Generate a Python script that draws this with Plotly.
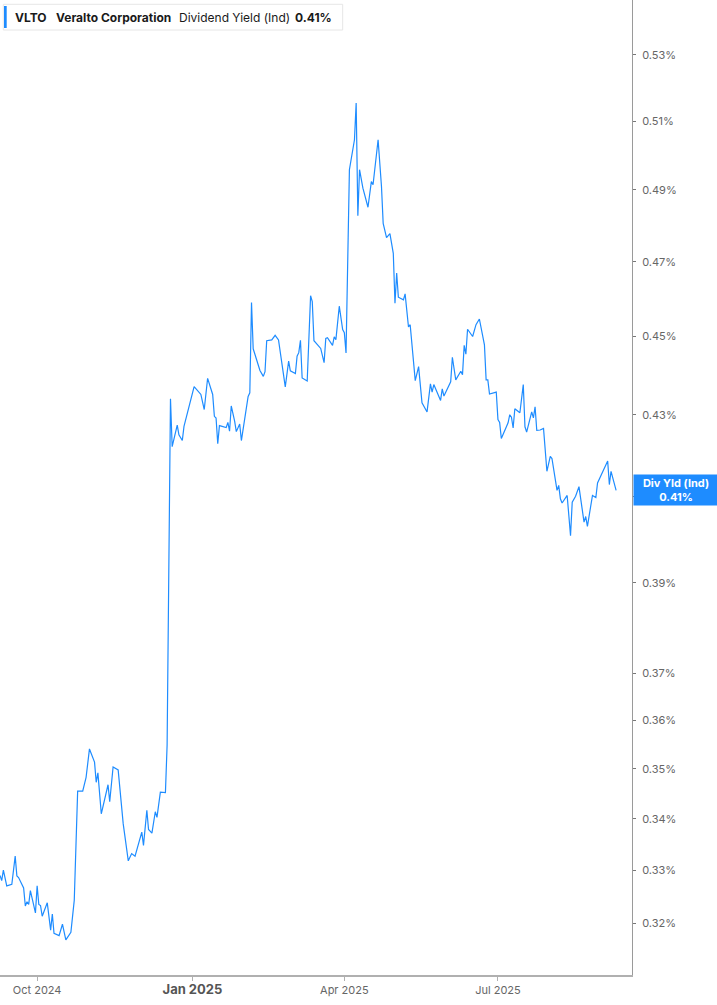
import math
import plotly.graph_objects as go

# VLTO indicated dividend yield (%)
dates = [
    "2024-09-09", "2024-09-10", "2024-09-11", "2024-09-13", "2024-09-16", "2024-09-18", "2024-09-19", "2024-09-20",
    "2024-09-23", "2024-09-24", "2024-09-25", "2024-09-26", "2024-09-27", "2024-09-30", "2024-10-01", "2024-10-02",
    "2024-10-03", "2024-10-04", "2024-10-07", "2024-10-09", "2024-10-10", "2024-10-11", "2024-10-14", "2024-10-16",
    "2024-10-18", "2024-10-21", "2024-10-23", "2024-10-25", "2024-10-28", "2024-10-30", "2024-11-01", "2024-11-04",
    "2024-11-05", "2024-11-06", "2024-11-08", "2024-11-12", "2024-11-13", "2024-11-15", "2024-11-18", "2024-11-20",
    "2024-11-21", "2024-11-24", "2024-11-26", "2024-11-28", "2024-12-02", "2024-12-03", "2024-12-05", "2024-12-06",
    "2024-12-08", "2024-12-10", "2024-12-11", "2024-12-13", "2024-12-16", "2024-12-17", "2024-12-19", "2024-12-20",
    "2024-12-23", "2024-12-24", "2024-12-26", "2024-12-27", "2024-12-30", "2025-01-02", "2025-01-06", "2025-01-08",
    "2025-01-10", "2025-01-13", "2025-01-14", "2025-01-15", "2025-01-16", "2025-01-17", "2025-01-21", "2025-01-22",
    "2025-01-23", "2025-01-24", "2025-01-26", "2025-01-27", "2025-01-29", "2025-01-30", "2025-02-03", "2025-02-04",
    "2025-02-05", "2025-02-06", "2025-02-10", "2025-02-12", "2025-02-13", "2025-02-14", "2025-02-17", "2025-02-19",
    "2025-02-21", "2025-02-25", "2025-02-27", "2025-02-28", "2025-03-03", "2025-03-04", "2025-03-05", "2025-03-06",
    "2025-03-07", "2025-03-10", "2025-03-12", "2025-03-13", "2025-03-14", "2025-03-18", "2025-03-20", "2025-03-21",
    "2025-03-22", "2025-03-25", "2025-03-26", "2025-03-27", "2025-03-29", "2025-03-31", "2025-04-01", "2025-04-02",
    "2025-04-04", "2025-04-07", "2025-04-08", "2025-04-09", "2025-04-10", "2025-04-12", "2025-04-15", "2025-04-17",
    "2025-04-18", "2025-04-21", "2025-04-23", "2025-04-24", "2025-04-26", "2025-04-28", "2025-04-30", "2025-05-01",
    "2025-05-02", "2025-05-03", "2025-05-06", "2025-05-07", "2025-05-09", "2025-05-10", "2025-05-13", "2025-05-15",
    "2025-05-17", "2025-05-20", "2025-05-22", "2025-05-23", "2025-05-24", "2025-05-28", "2025-05-29", "2025-05-30",
    "2025-06-03", "2025-06-04", "2025-06-06", "2025-06-09", "2025-06-10", "2025-06-11", "2025-06-12", "2025-06-13",
    "2025-06-16", "2025-06-18", "2025-06-20", "2025-06-23", "2025-06-24", "2025-06-25", "2025-06-26", "2025-06-30",
    "2025-07-01", "2025-07-02", "2025-07-03", "2025-07-07", "2025-07-08", "2025-07-09", "2025-07-10", "2025-07-11",
    "2025-07-14", "2025-07-16", "2025-07-17", "2025-07-18", "2025-07-21", "2025-07-22", "2025-07-23", "2025-07-24",
    "2025-07-26", "2025-07-28", "2025-07-30", "2025-08-01", "2025-08-02", "2025-08-05", "2025-08-06", "2025-08-07",
    "2025-08-08", "2025-08-11", "2025-08-13", "2025-08-14", "2025-08-16", "2025-08-18", "2025-08-21", "2025-08-22",
    "2025-08-23", "2025-08-26", "2025-08-28", "2025-08-29", "2025-09-04", "2025-09-05", "2025-09-06", "2025-09-09",
]
yield_pct = [
    0.3290, 0.3280, 0.3300, 0.3270, 0.3273, 0.3327, 0.3289, 0.3286,
    0.3266, 0.3232, 0.3240, 0.3235, 0.3261, 0.3219, 0.3270, 0.3235,
    0.3233, 0.3213, 0.3238, 0.3187, 0.3217, 0.3181, 0.3177, 0.3198,
    0.3169, 0.3183, 0.3243, 0.3455, 0.3455, 0.3483, 0.3541, 0.3514,
    0.3473, 0.3492, 0.3410, 0.3468, 0.3434, 0.3504, 0.3498, 0.3414,
    0.3390, 0.3318, 0.3332, 0.3327, 0.3374, 0.3348, 0.3417, 0.3379,
    0.3372, 0.3414, 0.3403, 0.3453, 0.3452, 0.3549, 0.4340, 0.4221,
    0.4274, 0.4250, 0.4236, 0.4271, 0.4319, 0.4371, 0.4351, 0.4313,
    0.4392, 0.4351, 0.4296, 0.4292, 0.4228, 0.4273, 0.4268, 0.4281,
    0.4259, 0.4322, 0.4284, 0.4258, 0.4277, 0.4236, 0.4346, 0.4355,
    0.4590, 0.4468, 0.4412, 0.4397, 0.4409, 0.4489, 0.4491, 0.4503,
    0.4491, 0.4370, 0.4436, 0.4411, 0.4404, 0.4449, 0.4458, 0.4490,
    0.4393, 0.4385, 0.4608, 0.4592, 0.4489, 0.4469, 0.4432, 0.4495,
    0.4497, 0.4477, 0.4499, 0.4492, 0.4580, 0.4518, 0.4510, 0.4457,
    0.4958, 0.5045, 0.5154, 0.4827, 0.4958, 0.4905, 0.4851, 0.4924,
    0.4915, 0.5045, 0.4910, 0.4806, 0.4766, 0.4777, 0.4723, 0.4588,
    0.4669, 0.4604, 0.4597, 0.4613, 0.4525, 0.4531, 0.4386, 0.4422,
    0.4330, 0.4307, 0.4378, 0.4357, 0.4376, 0.4336, 0.4365, 0.4347,
    0.4383, 0.4446, 0.4388, 0.4410, 0.4401, 0.4477, 0.4454, 0.4519,
    0.4500, 0.4531, 0.4546, 0.4478, 0.4388, 0.4388, 0.4352, 0.4357,
    0.4288, 0.4281, 0.4241, 0.4280, 0.4300, 0.4294, 0.4267, 0.4315,
    0.4305, 0.4376, 0.4270, 0.4257, 0.4307, 0.4292, 0.4320, 0.4261,
    0.4262, 0.4266, 0.4161, 0.4197, 0.4192, 0.4115, 0.4127, 0.4095,
    0.4085, 0.4103, 0.4008, 0.4087, 0.4101, 0.4124, 0.4040, 0.4053,
    0.4030, 0.4103, 0.4098, 0.4133, 0.4186, 0.4129, 0.4161, 0.4115,
]

y_ticks = [0.32, 0.33, 0.34, 0.35, 0.36, 0.37, 0.39, 0.41, 0.43, 0.45, 0.47, 0.49, 0.51, 0.53]
x_ticks = ["2024-10-01", "2025-01-01", "2025-04-01", "2025-07-01"]
x_ticktext = ["Oct 2024", "<span style='font-size:13px;color:#555555'><b>Jan 2025</b></span>", "Apr 2025", "Jul 2025"]

ticker = "VLTO"
company = "Veralto Corporation"
metric = "Dividend Yield (Ind)"
last_txt = f"{yield_pct[-1]:.2f}%"

blue = "#1e8cff"
font = "Inter, Roboto, sans-serif"

fig = go.Figure()
fig.add_trace(go.Scatter(x=dates, y=yield_pct, mode="lines",
                         line=dict(color=blue, width=1.2), showlegend=False, hoverinfo="skip"))

fig.update_layout(
    width=717, height=1005,
    margin=dict(l=0, r=85, t=0, b=30),
    paper_bgcolor="white", plot_bgcolor="white",
    font=dict(family=font, size=11, color="#666666"),
    xaxis=dict(
        type="date", range=["2024-09-09", "2025-09-18 10:00"],
        showgrid=False, zeroline=False,
        showline=True, linecolor="#b0b0b0", linewidth=1.5,
        ticks="outside", ticklen=4, tickcolor="#b0b0b0", tickwidth=1,
        tickvals=x_ticks, ticktext=x_ticktext,
        tickfont=dict(family=font, size=11, color="#666666"),
    ),
    yaxis=dict(
        type="log", side="right",
        range=[math.log10(0.3105), math.log10(0.5472)],
        showgrid=False, zeroline=False,
        showline=True, linecolor="#9a9a9a", linewidth=1,
        ticks="outside", ticklen=3, tickcolor="#777777",
        tickvals=y_ticks, ticktext=[f"{v:.2f}%" for v in y_ticks],
        tickfont=dict(family=font, size=11, color="#666666"),
        ticklabelstandoff=4,
    ),
)

# header box, top left
fig.add_shape(type="rect", xref="paper", yref="paper",
              x0=3.3 / 632, x1=342.7 / 632, y0=(975 - 30) / 975, y1=(975 - 4.3) / 975,
              line=dict(color="#e6e6e6", width=1), fillcolor="white", layer="above")
fig.add_shape(type="rect", xref="paper", yref="paper",
              x0=4 / 632, x1=6.7 / 632, y0=(975 - 28) / 975, y1=(975 - 6) / 975,
              line=dict(width=0), fillcolor=blue, layer="above")

header = [(13.3, f"<b>{ticker}</b>"), (54, f"<b>{company}</b>"), (176.7, metric), (293.3, f"<b>{last_txt}</b>")]
for px, txt in header:
    fig.add_annotation(xref="paper", yref="paper", x=px / 632, y=(975 - 17) / 975,
                       xanchor="left", yanchor="middle", text=txt, showarrow=False,
                       font=dict(family=font, size=12, color="#1a1a1a"))

# last value tag on the right axis
fig.add_annotation(xref="paper", yref="y", x=1, xshift=1, y=math.log10(yield_pct[-1]),
                   xanchor="left", yanchor="middle", showarrow=False,
                   text=f"<b>Div Yld (Ind)</b><br><b>{last_txt}</b>",
                   font=dict(family=font, size=11, color="white"),
                   bgcolor=blue, borderpad=3, width=78, height=24, align="center")

# page has a default 8px body margin; drop it so the figure fills the window
fig.write_html("out.html", config={"displayModeBar": False},
               post_script="document.body.style.margin='0';")
